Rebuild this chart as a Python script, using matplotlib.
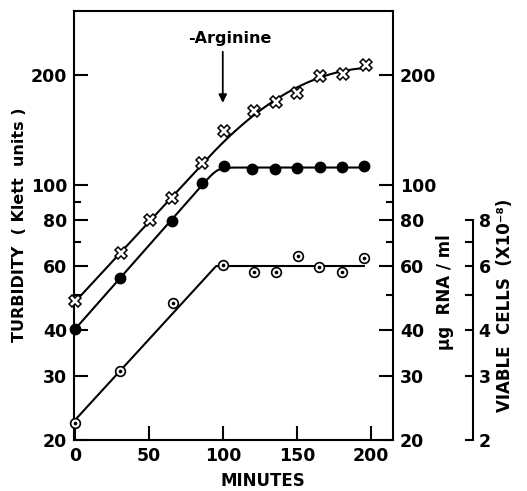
import numpy as np
import matplotlib
matplotlib.use("Agg")
import matplotlib.pyplot as plt
from matplotlib.ticker import FixedLocator, FixedFormatter, NullFormatter

# ---- data ----
turb_x = [0, 31, 51, 66, 86, 101, 121, 136, 150, 166, 181, 197]
turb_y = [48, 65, 80, 92, 115, 141, 160, 169, 179, 199, 202, 213]

rna_fill_x = [0, 30.5, 66, 86, 100.7, 120, 135.6, 150.3, 165.6, 180.4, 195.3]
rna_fill_y = [40.3, 55.5, 79.8, 101, 112.6, 110.5, 110.4, 111.7, 112, 112, 112.6]

cells_x = [0.5, 30.4, 66.2, 100.3, 121, 136.1, 150.9, 164.9, 180.7, 195.3]
cells_y = [22.2, 31.0, 47.4, 60.3, 57.8, 57.8, 63.9, 59.7, 57.8, 62.9]

left_ticks = [20, 30, 40, 60, 80, 100, 200]
left_minor = [50, 70, 90]
cell_ticks = [2, 3, 4, 6, 8]
cell_minor = [5, 7]
x_ticks = [0, 50, 100, 150, 200]

W, H = 527, 491
fig = plt.figure(figsize=(W / 100, H / 100), dpi=100)
L, R, B, T = 74, 393, 440, 11
ax = fig.add_axes([L / W, 1 - B / H, (R - L) / W, (B - T) / H])
ax.set_yscale("log")
ax.set_ylim(20, 300)
ax.set_xlim(-0.5, 215)

FS = 12.5
lw = 1.5

# ---- fitted lines ----
tx = np.array(turb_x, float); ty = np.log10(turb_y)
xb = 90.0
m1 = tx <= xb
s, b0 = np.polyfit(tx[m1], ty[m1], 1)
d = tx[~m1] - xb
r = ty[~m1] - (b0 + s * tx[~m1])
c = -np.sum(r * d**2) / np.sum(d**4)
xx = np.linspace(0, tx[-1], 300)
yy = b0 + s * xx
yy = np.where(xx > xb, yy - c * (xx - xb)**2, yy)
ax.plot(xx, 10**yy, color="black", lw=lw, zorder=2)

fx = np.array(rna_fill_x, float); fy = np.log10(rna_fill_y)
m2 = fx <= 90
s2, b2 = np.polyfit(fx[m2], fy[m2], 1)
P2 = np.mean(fy[fx >= 100])
xx2 = np.linspace(0, fx[-1], 300)
lin2 = b2 + s2 * xx2
k = 90.0
yy2 = -np.log(np.exp(-k * lin2) + np.exp(-k * P2)) / k
ax.plot(xx2, 10**yy2, color="black", lw=lw, zorder=2)

cx = np.array(cells_x, float); cy = np.log10(cells_y)
m3 = cx <= 101
s3, b3 = np.polyfit(cx[m3], cy[m3], 1)
P3 = np.mean(cy[cx >= 100])
xx3 = np.linspace(0, cx[-1], 400)
yy3 = np.minimum(b3 + s3 * xx3, P3)
ax.plot(xx3, 10**yy3, color="black", lw=lw, zorder=2)

# ---- markers ----
ax.plot(turb_x, turb_y, ls="none", marker="X", ms=8.5, mfc="white",
        mec="black", mew=1.1, zorder=4, clip_on=False)
ax.plot(rna_fill_x, rna_fill_y, ls="none", marker="o", ms=7.5, mfc="black",
        mec="black", zorder=4, clip_on=False)
ax.plot(cells_x, cells_y, ls="none", marker="o", ms=7, mfc="white",
        mec="black", mew=1.2, zorder=4, clip_on=False)
ax.plot(cells_x, cells_y, ls="none", marker="o", ms=1.6, mfc="black",
        mec="black", zorder=5, clip_on=False)

# third axis: viable cells
ax3 = ax.twinx()
ax3.set_yscale("log")
ax3.set_ylim(2, 30)
for n, sp in ax3.spines.items():
    sp.set_visible(n == "right")
ax3.spines["right"].set_position(("axes", (473 - L) / (R - L)))
ax3.spines["right"].set_bounds(2, 8)
ax3.spines["right"].set_linewidth(1.5)
ax3.yaxis.set_major_locator(FixedLocator(cell_ticks))
ax3.yaxis.set_major_formatter(FixedFormatter([str(v) for v in cell_ticks]))
ax3.yaxis.set_minor_locator(FixedLocator(cell_minor))
ax3.yaxis.set_minor_formatter(NullFormatter())
ax3.tick_params(axis="y", which="both", direction="in", length=6, width=1.5,
                labelsize=FS, pad=4)
for lab in ax3.get_yticklabels():
    lab.set_fontweight("bold")

# ---- main axes styling ----
for sp in ax.spines.values():
    sp.set_linewidth(1.5)
ax.yaxis.set_major_locator(FixedLocator(left_ticks))
ax.yaxis.set_major_formatter(FixedFormatter([str(v) for v in left_ticks]))
ax.yaxis.set_minor_locator(FixedLocator(left_minor))
ax.yaxis.set_minor_formatter(NullFormatter())
ax.xaxis.set_major_locator(FixedLocator(x_ticks))
ax.xaxis.set_minor_locator(FixedLocator([]))
ax.tick_params(axis="both", which="major", direction="in", length=10, width=1.5,
               labelsize=FS, pad=5)
ax.tick_params(axis="y", which="minor", direction="in", length=5, width=1.5)
ax.tick_params(axis="y", which="both", left=True, right=True,
               labelleft=True, labelright=True)
for lab in ax.get_xticklabels() + ax.get_yticklabels():
    lab.set_fontweight("bold")
for t in ax.yaxis.get_major_ticks():
    t.label2.set_fontweight("bold")

# ---- labels ----
fig.text(20 / W, 1 - 225 / H, "TURBIDITY  ( Klett  units )", rotation=90,
         ha="center", va="center", fontsize=FS - 1, fontweight="bold")
fig.text(445 / W, 1 - 292 / H, "µg  RNA / ml", rotation=90,
         ha="center", va="center", fontsize=FS - 0.5, fontweight="bold")
fig.text(505 / W, 1 - 305 / H, "VIABLE  CELLS  (X10⁻⁸)", rotation=90,
         ha="center", va="center", fontsize=FS - 0.5, fontweight="bold")
fig.text(263 / W, 1 - 481 / H, "MINUTES", ha="center", va="center",
         fontsize=FS - 0.5, fontweight="bold")

ax.text(104.5, 252, "-Arginine", ha="center", va="center", fontsize=FS - 1,
        fontweight="bold")
ax.annotate("", xy=(100, 168), xytext=(100, 232),
            arrowprops=dict(arrowstyle="-|>", lw=1.3, color="black",
                            mutation_scale=12, shrinkA=0, shrinkB=0))

fig.savefig("out.png", dpi=100)
